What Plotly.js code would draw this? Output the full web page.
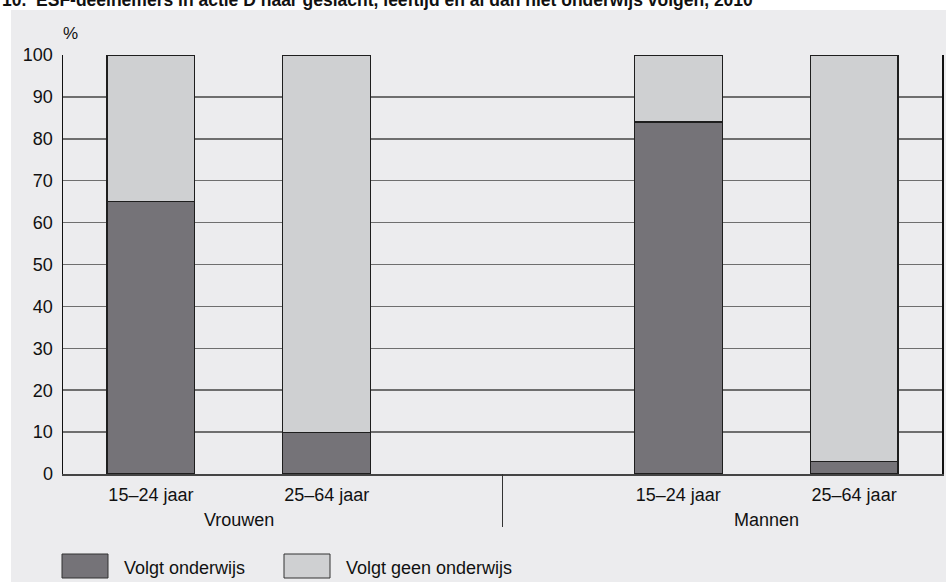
<!DOCTYPE html>
<html>
<head>
<meta charset="utf-8">
<script src="https://cdn.plot.ly/plotly-3.0.1.min.js"></script>
<style>html,body{margin:0;padding:0;background:#fff;}#chart{width:946px;height:582px;}</style>
</head>
<body>
<div id="chart"></div>
<script>
const chartTitle = "10.  ESF-deelnemers in actie D naar geslacht, leeftijd en al dan niet onderwijs volgen, 2010";
const groups = ["Vrouwen", "Mannen"];
const ages = ["15–24 jaar", "25–64 jaar"];
const seriesNames = ["Volgt onderwijs", "Volgt geen onderwijs"];
const volgtOnderwijs = [65, 10, 84, 3];
const volgtGeenOnderwijs = [35, 90, 16, 97];
const yUnit = "%";

// positions: each group has two slots, one empty slot between groups
const xPos = [], xLabels = [];
groups.forEach((g, gi) => ages.forEach((a, ai) => { xPos.push(gi * 3 + ai); xLabels.push(a); }));

const M = {l: 63, r: 4, t: 55, b: 108};
const W = 946, H = 582;
const pw = W - M.l - M.r, ph = H - M.t - M.b;
const px = p => (p - M.l) / pw;          // pixel x -> paper
const py = p => (H - M.b - p) / ph;      // pixel y -> paper

const colors = ["#757378", "#cfd0d2"];
const lineCol = "#1e1e1e";
const font = "Liberation Sans, Arial, Helvetica, sans-serif";
const fs = 18;

const traces = [volgtOnderwijs, volgtGeenOnderwijs].map((vals, i) => ({
  type: "bar",
  x: xPos,
  y: vals,
  name: seriesNames[i],
  width: 0.5,
  marker: {color: colors[i], line: {color: lineCol, width: 1.2}},
  hoverinfo: "skip",
  showlegend: false
}));

const shapes = [
  {type: "rect", xref: "paper", yref: "paper", x0: px(11), x1: px(950), y0: py(10), y1: py(590),
   fillcolor: "#ececee", line: {width: 0}, layer: "below"},
  {type: "line", xref: "x", yref: "paper", x0: 2, x1: 2, y0: 0, y1: py(527),
   line: {color: "#333", width: 1}}
];
const annotations = [
  {xref: "paper", yref: "paper", x: px(0), y: py(12), xanchor: "left", yanchor: "bottom",
   text: "<b>" + chartTitle + "</b>", showarrow: false, font: {family: font, size: 17.5, color: "#111"}},
  {xref: "paper", yref: "paper", x: px(61), y: py(33), xanchor: "left", yanchor: "middle",
   text: yUnit, showarrow: false, font: {family: font, size: 17, color: "#111"}}
];
groups.forEach((g, gi) => {
  annotations.push({xref: "x", yref: "paper", x: gi * 3 + 0.5, y: py(520), xanchor: "center", yanchor: "middle",
    text: g, showarrow: false, font: {family: font, size: fs, color: "#111"}});
});
const legBoxX = [62, 284];
seriesNames.forEach((n, i) => {
  shapes.push({type: "rect", xref: "paper", yref: "paper", x0: px(legBoxX[i]), x1: px(legBoxX[i] + 46),
    y0: py(554), y1: py(578), fillcolor: colors[i], line: {color: "#333", width: 1}});
  annotations.push({xref: "paper", yref: "paper", x: px(legBoxX[i] + 60), y: py(568), xanchor: "left", yanchor: "middle",
    text: n, showarrow: false, font: {family: font, size: fs, color: "#111"}});
});

const layout = {
  width: W, height: H,
  margin: M,
  paper_bgcolor: "#ffffff",
  plot_bgcolor: "#ffffff",
  barmode: "stack",
  showlegend: false,
  xaxis: {
    range: [-0.5, 4.5], tickmode: "array", tickvals: xPos, ticktext: xLabels,
    showgrid: false, zeroline: false, showline: true, linecolor: "#444", linewidth: 1.5,
    ticks: "outside", ticklen: 4, tickcolor: "rgba(0,0,0,0)",
    tickfont: {family: font, size: fs, color: "#111"}, fixedrange: true
  },
  yaxis: {
    range: [0, 100], dtick: 10, tick0: 0,
    showgrid: true, gridcolor: "#6e6e6e", gridwidth: 1.5,
    zeroline: false, showline: true, mirror: true, linecolor: "#111", linewidth: 1.5,
    ticks: "outside", ticklen: 5, tickcolor: "rgba(0,0,0,0)",
    tickfont: {family: font, size: fs, color: "#111"}, fixedrange: true
  },
  shapes: shapes,
  annotations: annotations
};

Plotly.newPlot("chart", traces, layout, {displayModeBar: false, staticPlot: true});
</script>
</body>
</html>
